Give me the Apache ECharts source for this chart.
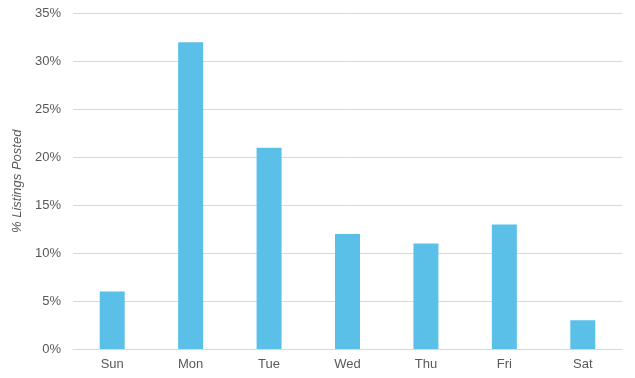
<!DOCTYPE html>
<html>
<head>
<meta charset="utf-8">
<script src="https://cdn.jsdelivr.net/npm/echarts@6/dist/echarts.min.js"></script>
<style>
  html, body { margin: 0; padding: 0; background: #fff; }
  #chart { width: 635px; height: 378px; }
</style>
</head>
<body>
<div id="chart"></div>
<script>
var days = ['Sun', 'Mon', 'Tue', 'Wed', 'Thu', 'Fri', 'Sat'];
var pctPosted = [6, 32, 21, 12, 11, 13, 3];
var yTicks = [0, 5, 10, 15, 20, 25, 30, 35];

var chart = echarts.init(document.getElementById('chart'));

var option = {
  animation: false,
  textStyle: { fontFamily: 'Liberation Sans, Arial, sans-serif' },
  grid: { left: 73, right: 13, top: 13.5, bottom: 29 },
  xAxis: {
    type: 'category',
    data: days,
    axisLine: { lineStyle: { color: '#d9d9d9', width: 1 } },
    axisTick: { show: false },
    axisLabel: { color: '#595959', fontSize: 13, margin: 9 }
  },
  yAxis: {
    type: 'value',
    min: yTicks[0],
    max: yTicks[yTicks.length - 1],
    interval: 5,
    name: '% Listings Posted',
    nameLocation: 'middle',
    nameGap: 47,
    nameTextStyle: { color: '#595959', fontSize: 13, fontStyle: 'italic' },
    axisLine: { show: false },
    axisTick: { show: false },
    splitLine: { lineStyle: { color: '#d9d9d9', width: 1 } },
    axisLabel: { color: '#595959', fontSize: 13, margin: 12, formatter: '{value}%' }
  },
  series: [{
    type: 'bar',
    data: pctPosted,
    barWidth: 25,
    itemStyle: { color: '#5bc0e8' }
  }]
};

chart.setOption(option);
</script>
</body>
</html>
